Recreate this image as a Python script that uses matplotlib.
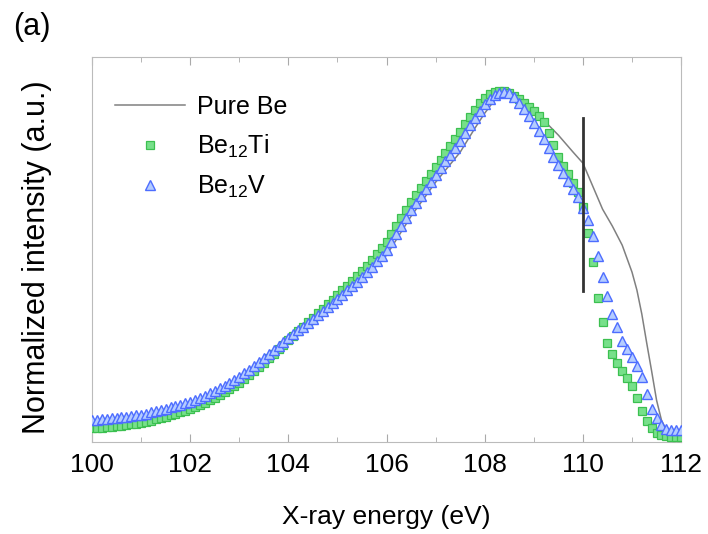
import numpy as np
import matplotlib
matplotlib.use("Agg")
import matplotlib.pyplot as plt
from matplotlib.ticker import MultipleLocator

plt.rcParams["font.family"] = ["Liberation Sans", "DejaVu Sans"]
plt.rcParams["mathtext.default"] = "regular"

# energies (eV) of the marker series, 0.1 eV step
E_ALLOY = np.round(np.arange(100.0, 112.01, 0.1), 1)

# Be12V, arbitrary units
BE12V = [17, 17, 18, 18, 19, 19, 20, 20, 21, 22,
         22, 23, 25, 26, 27, 28, 30, 31, 32, 34,
         35, 37, 39, 41, 44, 46, 49, 51, 54, 57,
         60, 64, 67, 71, 75, 79, 83, 87, 91, 95,
         99, 103, 107, 110, 114, 118, 122, 126, 130, 134,
         138, 142, 147, 151, 155, 160, 165, 170, 176, 181,
         187, 195, 203, 211, 219, 227, 234, 241, 248, 255,
         262, 269, 276, 282, 289, 296, 304, 312, 319, 326,
         333, 338, 342, 344, 345, 344, 340, 334, 328, 321,
         314, 306, 298, 289, 280, 272, 264, 256, 248, 240,
         229, 217, 201, 181, 160, 141, 123, 110, 96, 88,
         80, 71, 60, 43, 28, 19, 12, 8, 7, 7,
         7]

# Be12Ti
BE12TI = [9, 9, 9, 10, 10, 11, 11, 12, 13, 13,
          14, 15, 16, 18, 19, 20, 22, 23, 25, 26,
          28, 30, 32, 34, 37, 39, 42, 45, 48, 51,
          54, 58, 62, 66, 70, 74, 79, 83, 88, 92,
          97, 101, 106, 110, 115, 119, 124, 128, 133, 137,
          142, 147, 151, 156, 161, 166, 171, 177, 183, 189,
          195, 203, 211, 219, 227, 235, 242, 249, 256, 263,
          270, 277, 284, 291, 298, 305, 313, 320, 327, 334,
          339, 343, 345, 346, 346, 344, 341, 338, 334, 330,
          326, 321, 315, 304, 292, 280, 271, 263, 254, 245,
          230, 204, 175, 139, 115, 94, 83, 74, 66, 59,
          51, 39, 26, 16, 9, 4, 2, 1, 0, 0,
          0]

# pure Be reference spectrum (line)
E_BE = [100.0, 100.5, 101.0, 101.5, 102.0, 102.5, 103.0, 103.5, 104.0, 104.5,
        105.0, 105.5, 106.0, 106.5, 107.0, 107.5, 107.8, 108.0, 108.2, 108.4,
        108.6, 108.8, 109.0, 109.2, 109.5, 109.8, 110.0, 110.2, 110.4, 110.6,
        110.8, 111.0, 111.1, 111.2, 111.3, 111.4, 111.5, 111.6, 111.7, 111.8, 112.0]
PURE_BE = [13, 15, 18, 24, 31, 42, 56, 75, 95, 115,
           135, 156, 182, 221, 255, 285, 309, 324, 337, 344,
           344, 337, 327, 317, 302, 285, 274, 251, 228, 211,
           192, 165, 147, 123, 94, 66, 37, 17, 7, 3, 0]

# marker bar at 110 eV
BAR_X = 110.0
BAR_Y = (146, 319)

fig = plt.figure(figsize=(7.08, 5.34), dpi=100)
ax = fig.add_axes([0.130, 0.172, 0.832, 0.721])

ax.plot(E_BE, PURE_BE, color="#808080", lw=1.1, label="Pure Be", zorder=2)
ax.plot(E_ALLOY, BE12TI, ls="none", marker="s", ms=6.2, mfc="#77e08a", mec="#3cc050",
        mew=0.9, label="Be$_{12}$Ti", zorder=3)
ax.plot(E_ALLOY, BE12V, ls="none", marker="^", ms=6.8, mfc="#b4ccff", mec="#4d6dff",
        mew=1.0, label="Be$_{12}$V", zorder=4)
ax.plot([BAR_X, BAR_X], BAR_Y, color="#333333", lw=2, zorder=5)

ax.set_xlim(100, 112)
ax.set_ylim(-5, 380)
ax.xaxis.set_major_locator(MultipleLocator(2))
ax.xaxis.set_minor_locator(MultipleLocator(1))
ax.tick_params(axis="x", which="both", direction="in", top=True, colors="#aaaaaa",
               labelcolor="black", labelsize=19, pad=8)
ax.tick_params(axis="x", which="major", length=6)
ax.tick_params(axis="x", which="minor", length=3.5)
ax.set_yticks([])
for s in ax.spines.values():
    s.set_color("#bbbbbb")

ax.set_xlabel("X-ray energy (eV)", fontsize=19, labelpad=20)
ax.set_ylabel("Normalized intensity (a.u.)", fontsize=22)
ax.yaxis.set_label_coords(-0.068, 0.48)

leg = ax.legend(loc="upper left", bbox_to_anchor=(0.0, 0.96), frameon=False, fontsize=18,
                handlelength=2.8, numpoints=1, labelspacing=0.55, handletextpad=0.5,
                borderaxespad=0.5)
fig.text(0.018, 0.977, "(a)", fontsize=22, va="top")

fig.savefig("out.png", dpi=100)
